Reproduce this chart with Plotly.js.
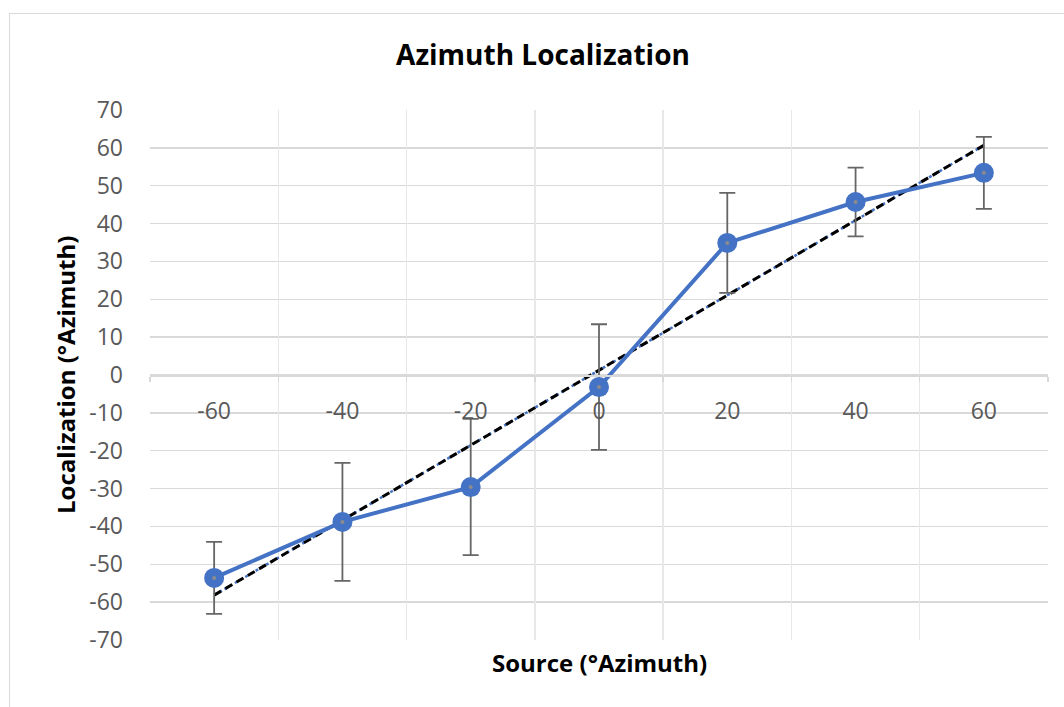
<!DOCTYPE html>
<html><head><meta charset="utf-8">
<script src="https://cdn.plot.ly/plotly-3.0.1.min.js"></script>
<style>
html,body{margin:0;padding:0;background:#fff;}
#wrap{position:relative;width:1064px;height:707px;overflow:hidden;}
#frame{position:absolute;left:9px;top:13px;width:1100px;height:760px;border:1px solid #d9d9d9;box-sizing:border-box;pointer-events:none;}
#chart{position:absolute;left:0;top:0;width:1064px;height:707px;}
</style></head>
<body><div id="wrap"><div id="chart"></div><div id="frame"></div></div>
<script>
const sourceAz = [-60, -40, -20, 0, 20, 40, 60];
const localizedAz = [-53.6, -38.8, -29.6, -3.2, 34.9, 45.7, 53.4];
const errorAz = [9.5, 15.6, 18.0, 16.6, 13.2, 9.1, 9.5];
const xTickLabels = ['-60', '-40', '-20', '0', '20', '40', '60'];
const yTickVals = [-70, -60, -50, -40, -30, -20, -10, 0, 10, 20, 30, 40, 50, 60, 70];
const yTickLabels = ['-70', '-60', '-50', '-40', '-30', '-20', '-10', '0', '10', '20', '30', '40', '50', '60', '70'];

// linear trendline fitted to the data
const n = sourceAz.length;
const mx = sourceAz.reduce((a,b)=>a+b,0)/n;
const my = localizedAz.reduce((a,b)=>a+b,0)/n;
let sxy=0, sxx=0;
for(let i=0;i<n;i++){sxy+=(sourceAz[i]-mx)*(localizedAz[i]-my);sxx+=(sourceAz[i]-mx)**2;}
const slope = sxy/sxx, icpt = my - slope*mx;
const trendX = [sourceAz[0], sourceAz[n-1]];
const trendY = trendX.map(x=>slope*x+icpt);

const font = "'Open Sans', 'Liberation Sans', sans-serif";
const traces = [
  {x: trendX, y: trendY, mode:'lines', line:{color:'#4472C4', width:2.5, dash:'dot'}, hoverinfo:'skip'},
  {x: trendX, y: trendY, mode:'lines', line:{color:'#000000', width:3, dash:'8px,5px'}, hoverinfo:'skip'},
  {x: sourceAz, y: localizedAz, mode:'lines+markers',
   line:{color:'#4472C4', width:4},
   marker:{color:'#4472C4', size:20},
   error_y:{type:'data', array: errorAz, visible:true, color:'#666666', thickness:1.8, width:8}},
  {x: sourceAz, y: localizedAz, mode:'markers', marker:{color:'#8c8c8c', size:4}, hoverinfo:'skip'},
  {x: [0], y:[0], xaxis:'x2', mode:'markers', marker:{opacity:0}, hoverinfo:'skip'}
];

const layout = {
  width:1064, height:707,
  margin:{l:150, r:16, t:110, b:67},
  paper_bgcolor:'#fff', plot_bgcolor:'#fff',
  showlegend:false,
  title:{text:'<b>Azimuth Localization</b>', x:543/1064, xref:'container', xanchor:'center', y:1-55.5/707, yref:'container', yanchor:'middle',
         font:{family:font, size:28, color:'#000'}},
  xaxis:{range:[-70,70], tickmode:'array', tickvals:sourceAz, ticktext:xTickLabels,
         showgrid:false, zeroline:false, showline:false, ticks:'',
         anchor:'free', position:0.5, ticklabelstandoff:20,
         tickfont:{family:font, size:23, color:'#595959'},
         title:{text:''}},
  xaxis2:{range:[-70,70], overlaying:'x', tick0:-70, dtick:20, showgrid:true, gridcolor:'#e8e8e8', gridwidth:1.5,
          showticklabels:false, ticks:'outside', ticklen:5, tickcolor:'#d9d9d9', tickwidth:1.5,
          showline:true, linecolor:'#d9d9d9', linewidth:1.5, zeroline:false,
          anchor:'free', position:0.5, side:'bottom'},
  yaxis:{range:[-70,70], tickmode:'array', tickvals:yTickVals, ticktext:yTickLabels,
         showgrid:true, gridcolor:'#d9d9d9', gridwidth:1.5, zeroline:false,
         showline:false, ticks:'', ticklabelstandoff:26,
         tickfont:{family:font, size:23, color:'#595959'},
         title:{text:''}},
  annotations:[
    {text:'<b>Source (°Azimuth)</b>', xref:'paper', yref:'paper', x:(599-150)/898, y:(640-662.5)/530,
     xanchor:'center', yanchor:'middle', showarrow:false, font:{family:font, size:24, color:'#000'}},
    {text:'<b>Localization (°Azimuth)</b>', xref:'paper', yref:'paper', x:(65-150)/898, y:0.5, textangle:-90,
     xanchor:'center', yanchor:'middle', showarrow:false, font:{family:font, size:24, color:'#000'}}
  ]
};
Plotly.newPlot('chart', traces, layout, {displayModeBar:false, staticPlot:true});
</script></body></html>
